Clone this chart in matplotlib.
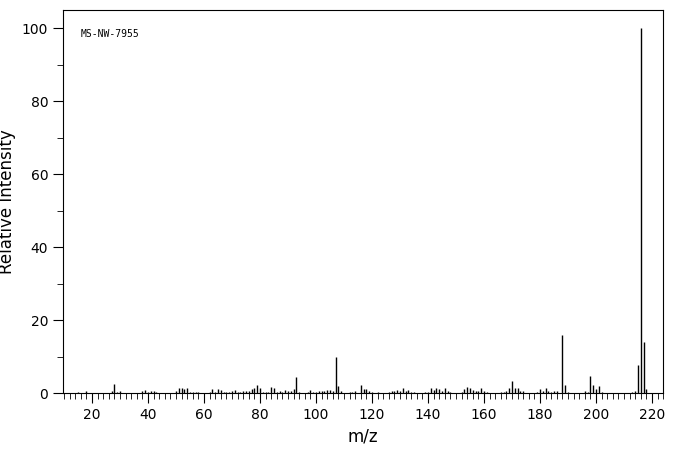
import matplotlib
matplotlib.use("Agg")
import matplotlib.pyplot as plt
from matplotlib.ticker import MultipleLocator

mz = [15,18,27,28,29,30,38,39,40,41,42,43,50,51,52,53,54,55,56,57,58,62,63,64,65,66,67,68,69,70,71,72,73,74,75,76,77,78,79,80,81,82,83,84,85,86,87,88,89,90,91,92,93,94,97,98,99,100,101,102,103,104,105,106,107,108,109,112,113,114,
      116,117,118,119,120,122,126,127,128,129,130,131,132,133,134,135,139,140,141,142,143,144,145,146,147,148,152,153,154,155,156,157,158,159,160,161,166,167,168,169,170,171,172,173,174,179,180,181,182,183,184,185,186,188,189,190,196,197,198,199,200,201,202,213,214,215,216,217,218]
intensity = [0.3,0.5,0.5,2.5,0.3,0.6,0.5,0.8,0.4,0.6,0.6,0.3,0.5,1.4,1.4,1.0,1.4,0.4,0.3,0.3,0.3,0.4,1.0,0.4,1.1,0.8,0.3,0.3,0.4,0.5,0.8,0.3,0.3,0.5,0.5,0.6,1.2,1.5,2.2,1.4,0.3,0.3,0.4,1.6,1.3,0.3,0.5,0.3,0.8,0.6,0.6,1.0,4.4,0.3,0.4,0.8,0.3,0.4,0.6,0.6,0.6,0.8,0.8,0.5,10.0,1.9,0.6,0.3,0.4,0.5,
             2.2,1.2,1.2,0.7,0.4,0.3,
             0.3,0.5,0.6,0.8,0.6,1.4,0.6,0.9,0.4,0.3,
             0.3,0.4,1.4,0.8,1.4,1.2,0.6,1.4,0.5,0.4,
             0.3,1.1,1.7,1.5,0.8,0.6,0.6,1.4,0.6,0.3,
             0.3,0.3,0.6,1.4,3.3,1.4,1.4,0.6,0.6,
             0.3,1.1,0.7,1.3,0.6,0.4,0.5,0.6,
             16.0,2.2,0.4,
             0.6,0.4,4.7,2.2,1.2,1.9,0.3,
             0.3,0.6,7.7,100.0,14.0,1.2]

fig = plt.figure(figsize=(6.76, 4.55), dpi=100)
ax = fig.add_axes([0.093, 0.136, 0.888, 0.842])
ax.vlines(mz, 0, intensity, colors="black", linewidth=1)
ax.set_xlim(9.6, 224)
ax.set_ylim(0, 105)
ax.xaxis.set_major_locator(MultipleLocator(20))
ax.xaxis.set_minor_locator(MultipleLocator(2))
ax.yaxis.set_major_locator(MultipleLocator(20))
ax.yaxis.set_minor_locator(MultipleLocator(10))
ax.tick_params(which="major", length=7, direction="out", labelsize=10)
ax.tick_params(which="minor", length=4, direction="out")
ax.set_xlabel("m/z", fontsize=12)
ax.set_ylabel("Relative Intensity", fontsize=12)
ax.text(0.03, 0.95, "MS-NW-7955", transform=ax.transAxes, fontsize=7, va="top", family="DejaVu Sans Mono")
fig.savefig("out.png", dpi=100)
